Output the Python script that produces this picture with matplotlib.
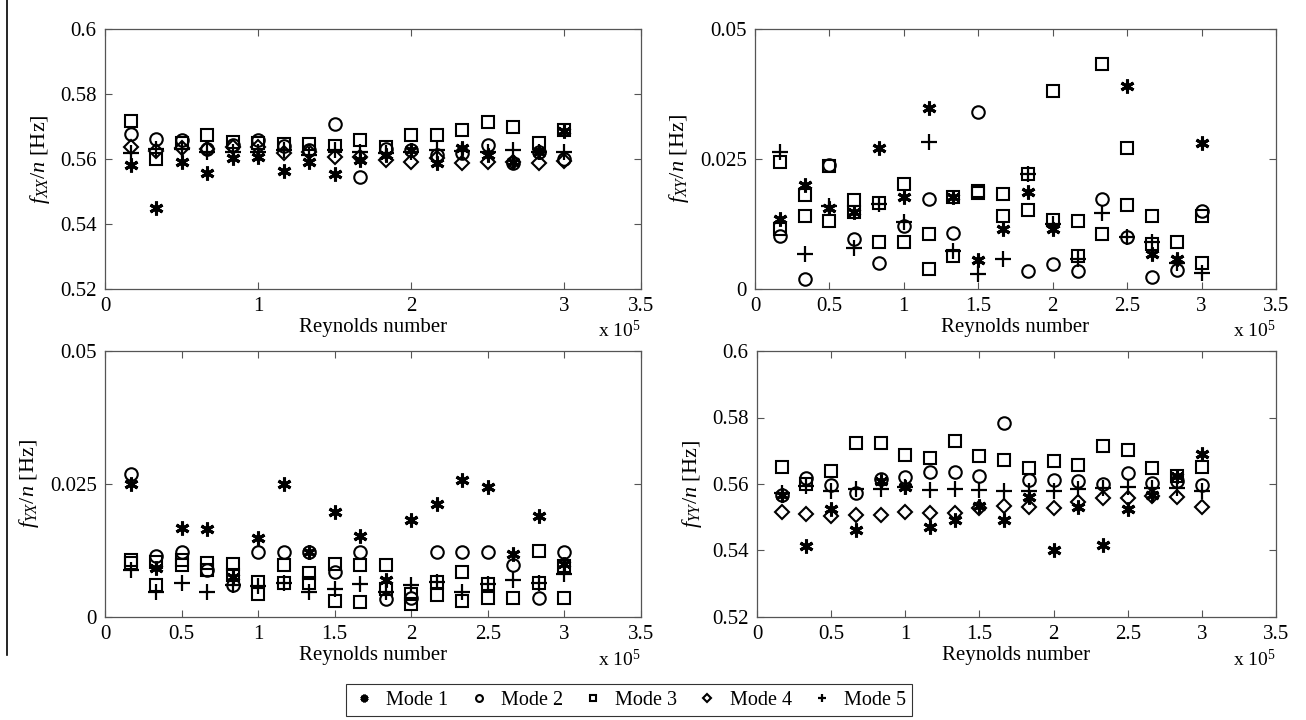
import matplotlib
matplotlib.use("Agg")
import matplotlib.pyplot as plt
import numpy as np
from matplotlib.lines import Line2D

plt.rcParams["font.family"] = ["Liberation Serif", "DejaVu Serif"]
plt.rcParams["mathtext.fontset"] = "custom"
plt.rcParams["mathtext.rm"] = "Liberation Serif"
plt.rcParams["mathtext.it"] = "Liberation Serif:italic"

nan = np.nan

# Reynolds number (x 1e5)
reynolds = [0.167, 0.333, 0.5, 0.667, 0.833, 1.0, 1.167, 1.333, 1.5,
            1.667, 1.833, 2.0, 2.167, 2.333, 2.5, 2.667, 2.833, 3.0]

# f_XX / n
fxx_mode1 = [0.5582, 0.5448, 0.5592, 0.5556, 0.5602, 0.5607, 0.5564, 0.5592, 0.5554,
             0.5597, 0.5612, 0.5628, 0.5587, 0.5633, 0.5612, 0.5592, 0.5623, 0.5685]
fxx_mode2 = [0.5677, 0.5662, 0.5658, 0.5630, 0.5643, 0.5658, 0.5640, 0.5628, 0.5707,
             0.5546, 0.5630, 0.5628, 0.5612, 0.5617, 0.5643, 0.5589, 0.5620, 0.5600]
fxx_mode3 = [0.5718, 0.5599, 0.5648, 0.5674, 0.5653, 0.5648, 0.5646, 0.5646, 0.5640,
             0.5658, 0.5638, 0.5674, 0.5674, 0.5689, 0.5715, 0.5697, 0.5650, 0.5688]
fxx_mode4 = [0.5636, 0.5625, 0.5633, 0.5630, 0.5638, 0.5636, 0.5617, 0.5620, 0.5605,
             0.5607, 0.5597, 0.5592, 0.5602, 0.5589, 0.5592, 0.5592, 0.5588, 0.5595]
fxx_mode5 = [0.5617, 0.5630, 0.5630, 0.5623, 0.5623, 0.5623, 0.5628, 0.5612, 0.5628,
             0.5623, 0.5617, 0.5623, 0.5628, 0.5625, 0.5620, 0.5628, 0.5620, 0.5621]

# f_XY / n  (two square series visible in this panel)
fxy_mode1 = [0.0135, 0.0200, 0.0155, 0.0148, 0.0271, 0.0176, 0.0348, 0.0176, 0.0055,
             0.0116, 0.0186, 0.0116, nan, nan, 0.0391, 0.0068, 0.0058, 0.0280]
fxy_mode2 = [0.0101, 0.0019, 0.0238, 0.0097, 0.0050, 0.0122, 0.0174, 0.0108, 0.0340,
             nan, 0.0034, 0.0048, 0.0035, 0.0174, 0.0100, 0.0024, 0.0037, 0.0150]
fxy_mode3 = [0.0244, 0.0180, 0.0236, 0.0171, 0.0166, 0.0202, 0.0106, 0.0176, 0.0189,
             0.0182, 0.0221, 0.0380, 0.0130, 0.0432, 0.0271, 0.0140, 0.0091, 0.0140]
fxy_mode3b = [0.0115, 0.0140, 0.0130, 0.0148, 0.0090, 0.0091, 0.0039, 0.0064, 0.0185,
              0.0140, 0.0151, 0.0132, 0.0064, 0.0106, 0.0161, 0.0087, nan, 0.0050]
fxy_mode5 = [0.0264, 0.0068, 0.0160, 0.0078, 0.0163, 0.0129, 0.0282, 0.0074, 0.0029,
             0.0057, 0.0221, 0.0125, 0.0058, 0.0147, 0.0100, 0.0090, 0.0050, 0.0030]

# f_YX / n
fyx_mode1 = [0.0250, 0.0092, 0.0168, 0.0165, 0.0075, 0.0149, 0.0250, 0.0122, 0.0197,
             0.0152, 0.0070, 0.0182, 0.0212, 0.0258, 0.0245, 0.0118, 0.0189, 0.0100]
fyx_mode2 = [0.0269, 0.0115, 0.0123, 0.0089, 0.0061, 0.0122, 0.0122, 0.0122, 0.0085,
             0.0122, 0.0034, 0.0035, 0.0122, 0.0122, 0.0122, 0.0098, 0.0035, 0.0122]
fyx_mode3 = [0.0108, 0.0104, 0.0108, 0.0101, 0.0100, 0.0065, 0.0098, 0.0082, 0.0100,
             0.0098, 0.0098, 0.0044, 0.0065, 0.0085, 0.0062, 0.0035, 0.0125, 0.0095]
fyx_mode3b = [0.0101, 0.0060, 0.0098, 0.0089, 0.0079, 0.0043, 0.0063, 0.0063, 0.0030,
              0.0028, 0.0053, 0.0025, 0.0042, 0.0030, 0.0035, nan, 0.0063, 0.0035]
fyx_mode5 = [0.0089, 0.0047, 0.0063, 0.0047, 0.0061, 0.0058, 0.0063, 0.0047, 0.0053,
             0.0062, 0.0047, 0.0060, 0.0065, 0.0047, 0.0062, 0.0070, 0.0063, 0.0080]

# f_YY / n
fyy_mode1 = [0.5567, 0.5415, 0.5526, 0.5461, 0.5610, 0.5590, 0.5471, 0.5491, 0.5534,
             0.5491, 0.5560, 0.5400, 0.5532, 0.5418, 0.5524, 0.5567, 0.5623, 0.5690]
fyy_mode2 = [0.5567, 0.5617, 0.5598, 0.5572, 0.5615, 0.5620, 0.5637, 0.5635, 0.5623,
             0.5784, 0.5613, 0.5613, 0.5608, 0.5600, 0.5633, 0.5603, 0.5610, 0.5598]
fyy_mode3 = [0.5652, 0.5600, 0.5638, 0.5724, 0.5724, 0.5686, 0.5678, 0.5729, 0.5684,
             0.5671, 0.5648, 0.5668, 0.5658, 0.5714, 0.5703, 0.5648, 0.5623, 0.5650]
fyy_mode4 = [0.5516, 0.5509, 0.5504, 0.5507, 0.5506, 0.5516, 0.5512, 0.5514, 0.5529,
             0.5534, 0.5532, 0.5527, 0.5545, 0.5558, 0.5558, 0.5563, 0.5560, 0.5530]
fyy_mode5 = [0.5573, 0.5595, 0.5580, 0.5585, 0.5585, 0.5590, 0.5583, 0.5585, 0.5583,
             0.5580, 0.5580, 0.5580, 0.5585, 0.5587, 0.5590, 0.5587, 0.5587, 0.5580]

mode_labels = ["Mode 1", "Mode 2", "Mode 3", "Mode 4", "Mode 5"]

STAR = (6, 2, 0)
styles = {
    "m1": dict(marker=STAR, ms=10, mew=2.2),
    "m2": dict(marker="o", ms=9, mew=1.5, mfc="none"),
    "m3": dict(marker="s", ms=9, mew=1.5, mfc="none"),
    "m4": dict(marker="D", ms=7, mew=1.5, mfc="none"),
    "m5": dict(marker="+", ms=11, mew=1.6),
}

fig = plt.figure(figsize=(13.06, 7.2), dpi=100)
W, H = 1306, 720


def add_axes(x0, y0, x1, y1):
    return fig.add_axes([x0 / W, 1 - y1 / H, (x1 - x0) / W, (y1 - y0) / H])


ax_xx = add_axes(105, 29, 641, 289)
ax_xy = add_axes(755, 29, 1276, 289)
ax_yx = add_axes(105, 351, 641, 617)
ax_yy = add_axes(757, 351, 1276, 617)

panels = [
    (ax_xx, [("m1", fxx_mode1), ("m2", fxx_mode2), ("m3", fxx_mode3),
             ("m4", fxx_mode4), ("m5", fxx_mode5)],
     (0.52, 0.6), [0.52, 0.54, 0.56, 0.58, 0.6], ["0.52", "0.54", "0.56", "0.58", "0.6"],
     [0, 1, 2, 3, 3.5], ["0", "1", "2", "3", "3.5"], r"$f_{XX}/n$ [Hz]"),
    (ax_xy, [("m1", fxy_mode1), ("m2", fxy_mode2), ("m3", fxy_mode3),
             ("m3", fxy_mode3b), ("m5", fxy_mode5)],
     (0, 0.05), [0, 0.025, 0.05], ["0", "0.025", "0.05"],
     [0, 0.5, 1, 1.5, 2, 2.5, 3, 3.5], ["0", "0.5", "1", "1.5", "2", "2.5", "3", "3.5"],
     r"$f_{XY}/n$ [Hz]"),
    (ax_yx, [("m1", fyx_mode1), ("m2", fyx_mode2), ("m3", fyx_mode3),
             ("m3", fyx_mode3b), ("m5", fyx_mode5)],
     (0, 0.05), [0, 0.025, 0.05], ["0", "0.025", "0.05"],
     [0, 0.5, 1, 1.5, 2, 2.5, 3, 3.5], ["0", "0.5", "1", "1.5", "2", "2.5", "3", "3.5"],
     r"$f_{YX}/n$ [Hz]"),
    (ax_yy, [("m1", fyy_mode1), ("m2", fyy_mode2), ("m3", fyy_mode3),
             ("m4", fyy_mode4), ("m5", fyy_mode5)],
     (0.52, 0.6), [0.52, 0.54, 0.56, 0.58, 0.6], ["0.52", "0.54", "0.56", "0.58", "0.6"],
     [0, 0.5, 1, 1.5, 2, 2.5, 3, 3.5], ["0", "0.5", "1", "1.5", "2", "2.5", "3", "3.5"],
     r"$f_{YY}/n$ [Hz]"),
]

x = np.array(reynolds) * 1e5
for ax, series, ylim, yt, ytl, xt, xtl, ylab in panels:
    for key, vals in series:
        ax.plot(x, vals, ls="none", color="black", **styles[key])
    ax.set_xlim(0, 3.5e5)
    ax.set_ylim(*ylim)
    ax.set_xticks(np.array(xt) * 1e5)
    ax.set_xticklabels(xtl)
    ax.set_yticks(yt)
    ax.set_yticklabels(ytl)
    ax.tick_params(direction="in", top=True, right=True, length=5, width=0.8,
                   color="#555555", labelsize=15, pad=6)
    for sp in ax.spines.values():
        sp.set_color("#555555")
        sp.set_linewidth(0.9)
    ax.set_xlabel("Reynolds number", fontsize=15, labelpad=1)
    ax.set_ylabel(ylab, fontsize=16, labelpad=6)
    ax.text(1.0, -0.12, r"x 10$^5$", transform=ax.transAxes, ha="right", va="top",
            fontsize=14)

# cropping line at left edge of the original figure
fig.add_artist(Line2D([7 / W, 7 / W], [1, 1 - 655 / H], color="black", lw=1.2))

handles = [Line2D([], [], ls="none", color="black",
                  **{**styles[k], "ms": styles[k]["ms"] * 0.55})
           for k in ["m1", "m2", "m3", "m4", "m5"]]
leg = fig.legend(handles, mode_labels, loc="center", ncol=5,
                 bbox_to_anchor=(629 / W, 1 - 700 / H), fontsize=14.5, frameon=True,
                 fancybox=False, edgecolor="black", handlelength=1.2,
                 handletextpad=0.5, columnspacing=0.9, borderpad=0.3)
leg.get_frame().set_linewidth(0.8)

fig.savefig("out.png", dpi=100)
